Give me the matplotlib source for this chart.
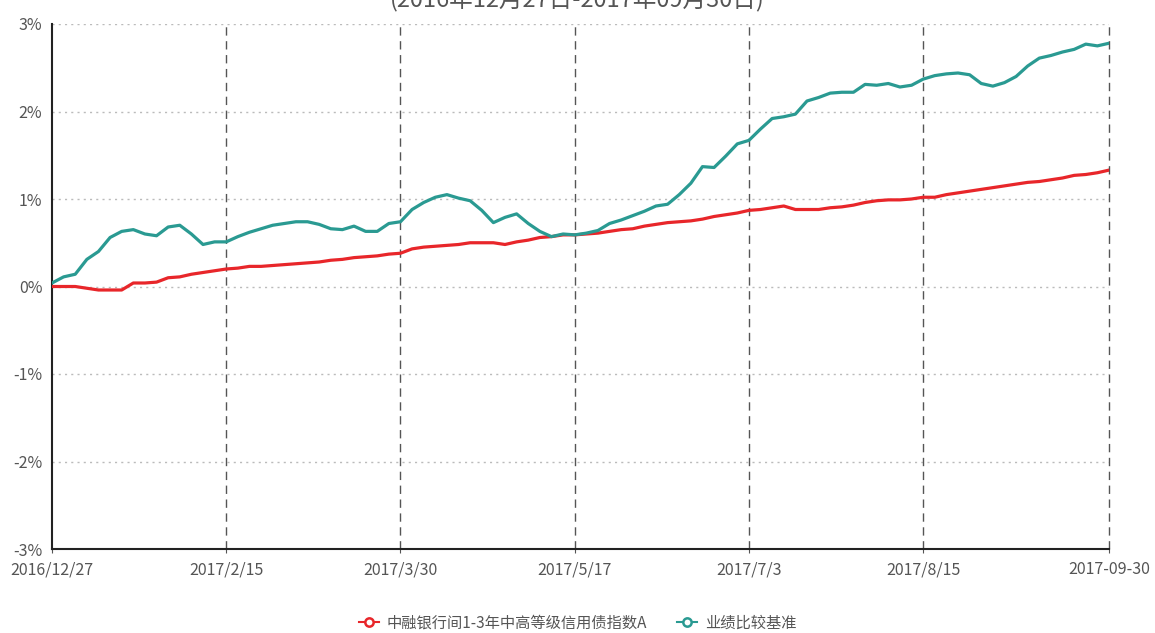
import matplotlib
matplotlib.use("Agg")
import matplotlib.pyplot as plt
from matplotlib.lines import Line2D

plt.rcParams['font.family'] = ['Noto Sans CJK SC', 'DejaVu Sans']

title = "(2016年12月27日-2017年09月30日)"
series_names = ["中融银行间1-3年中高等级信用债指数A", "业绩比较基准"]
tick_labels = ["2016/12/27", "2017/2/15", "2017/3/30", "2017/5/17", "2017/7/3", "2017/8/15", "2017-09-30"]
tick_idx = [0, 15, 30, 45, 60, 75, 91]

fund = [0.00, 0.00, 0.00, -0.02, -0.04, -0.04, -0.04, 0.04, 0.04, 0.05,
        0.10, 0.11, 0.14, 0.16, 0.18, 0.20, 0.21, 0.23, 0.23, 0.24,
        0.25, 0.26, 0.27, 0.28, 0.30, 0.31, 0.33, 0.34, 0.35, 0.37,
        0.38, 0.43, 0.45, 0.46, 0.47, 0.48, 0.50, 0.50, 0.50, 0.48,
        0.51, 0.53, 0.56, 0.57, 0.59, 0.59, 0.60, 0.61, 0.63, 0.65,
        0.66, 0.69, 0.71, 0.73, 0.74, 0.75, 0.77, 0.80, 0.82, 0.84,
        0.87, 0.88, 0.90, 0.92, 0.88, 0.88, 0.88, 0.90, 0.91, 0.93,
        0.96, 0.98, 0.99, 0.99, 1.00, 1.02, 1.02, 1.05, 1.07, 1.09,
        1.11, 1.13, 1.15, 1.17, 1.19, 1.20, 1.22, 1.24, 1.27, 1.28,
        1.30, 1.33]

bench = [0.04, 0.11, 0.14, 0.31, 0.40, 0.56, 0.63, 0.65, 0.60, 0.58,
         0.68, 0.70, 0.60, 0.48, 0.51, 0.51, 0.57, 0.62, 0.66, 0.70,
         0.72, 0.74, 0.74, 0.71, 0.66, 0.65, 0.69, 0.63, 0.63, 0.72,
         0.74, 0.88, 0.96, 1.02, 1.05, 1.01, 0.98, 0.87, 0.73, 0.79,
         0.83, 0.72, 0.63, 0.57, 0.60, 0.59, 0.61, 0.64, 0.72, 0.76,
         0.81, 0.86, 0.92, 0.94, 1.05, 1.18, 1.37, 1.36, 1.49, 1.63,
         1.67, 1.80, 1.92, 1.94, 1.97, 2.12, 2.16, 2.21, 2.22, 2.22,
         2.31, 2.30, 2.32, 2.28, 2.30, 2.37, 2.41, 2.43, 2.44, 2.42,
         2.32, 2.29, 2.33, 2.40, 2.52, 2.61, 2.64, 2.68, 2.71, 2.77,
         2.75, 2.78]

y_ticks = [-3, -2, -1, 0, 1, 2, 3]

red = "#e8262a"
teal = "#2a9a92"

fig = plt.figure(figsize=(11.55, 6.33), dpi=100)
ax = fig.add_axes([52/1155, 1-549/633, (1109-52)/1155, (549-24)/633])

x = list(range(len(fund)))
ax.plot(x, fund, color=red, lw=2.3, zorder=3)
ax.plot(x, bench, color=teal, lw=2.3, zorder=4)

ax.set_xlim(0, 91)
ax.set_ylim(-3, 3)
ax.set_yticks(y_ticks)
ax.set_yticklabels([f"{v}%" for v in y_ticks])
ax.set_xticks(tick_idx)
ax.set_xticklabels(tick_labels)

for v in y_ticks[1:]:
    ax.axhline(v, color="#bbbbbb", lw=1, ls=(0, (1.5, 3)), zorder=1)
for t in tick_idx[1:]:
    ax.axvline(t, color="#555555", lw=1, ls=(0, (6, 4)), zorder=1, clip_on=False)

for s in ["top", "right"]:
    ax.spines[s].set_visible(False)
ax.spines["left"].set_color("#222222")
ax.spines["bottom"].set_color("#222222")
ax.spines["left"].set_linewidth(1.5)
ax.spines["bottom"].set_linewidth(1.5)

ax.tick_params(axis="y", length=0, pad=7, labelsize=11.5, labelcolor="#555555")
ax.tick_params(axis="x", length=3, pad=6, labelsize=11.5, labelcolor="#555555", color="#555555")

fig.text(0.5, 1.0, title, ha="center", va="center", fontsize=17, color="#555555")

handles = [Line2D([0], [0], color=red, lw=1.5, marker="o", markersize=6,
                  markerfacecolor="white", markeredgecolor=red, markeredgewidth=1.8),
           Line2D([0], [0], color=teal, lw=1.5, marker="o", markersize=6,
                  markerfacecolor="white", markeredgecolor=teal, markeredgewidth=1.8)]
leg = fig.legend(handles, series_names, loc="center", bbox_to_anchor=(0.5, 0.016),
                 ncol=2, frameon=False, fontsize=11, handlelength=1.3,
                 handletextpad=0.5, columnspacing=2.0)
for t in leg.get_texts():
    t.set_color("#555555")

fig.savefig("out.png", dpi=100)
